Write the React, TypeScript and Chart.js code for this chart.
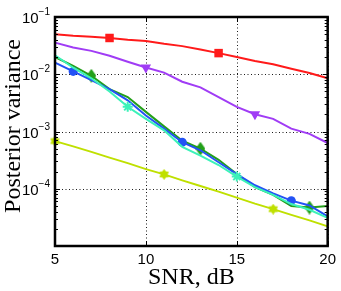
import React, { useEffect, useRef } from "react";
import { Chart, registerables } from "chart.js";

Chart.register(...registerables);

const snr = [5, 6, 7, 8, 9, 10, 11, 12, 13, 14, 15, 16, 17, 18, 19, 20];

const redVar = [0.05, 0.047, 0.045, 0.043, 0.04, 0.038, 0.034, 0.031, 0.027, 0.0234, 0.02, 0.017, 0.015, 0.0125, 0.0105, 0.0085];
const purpleVar = [0.0357, 0.0293, 0.0256, 0.021, 0.0165, 0.0131, 0.0107, 0.0074, 0.0059, 0.004, 0.0027, 0.002, 0.00166, 0.00112, 0.00091, 0.00063];
const blueVar = [0.016, 0.0112, 0.0079, 0.0055, 0.0035, 0.0019, 0.00112, 0.00065, 0.00047, 0.00029, 0.00018, 0.000115, 0.000083, 0.000062, 0.000051, 0.000033];
const greenVar = [0.02, 0.014, 0.0094, 0.0055, 0.004, 0.0022, 0.00123, 0.00069, 0.0005, 0.00032, 0.00018, 0.000107, 0.000078, 0.00005, 0.000047, 0.00005];
const cyanVar = [0.0215, 0.013, 0.0085, 0.005, 0.0027, 0.00166, 0.00105, 0.00054, 0.00038, 0.00026, 0.000163, 0.000107, 0.000078, 0.000054, 0.000043, 0.000031];
const yellowVar = [0.00068, 0.00055, 0.00044, 0.00035, 0.00028, 0.00022, 0.000178, 0.00014, 0.000112, 0.000089, 0.00007, 0.000055, 0.000044, 0.000035, 0.000028, 0.000022];

const redMarks = [8, 14];
const purpleMarks = [10, 16];
const blueMarks = [6, 12, 18];
const greenMarks = [7, 13, 19];
const cyanMarks = [9, 15];
const yellowMarks = [5, 11, 17];

const xTicks = [5, 10, 15, 20];
const yDecades = [-5, -4, -3, -2, -1];
const yLabelDecades = [-4, -3, -2, -1];

const COLORS = {
  red: "#ff1a1a",
  purple: "#a03cf5",
  blue: "#2352f5",
  green: "#23a019",
  cyan: "#3cf2b9",
  yellow: "#bfe000",
};

function makeDiamond(color: string) {
  const c = document.createElement("canvas");
  c.width = 10;
  c.height = 14;
  const g = c.getContext("2d")!;
  g.fillStyle = color;
  g.beginPath();
  g.moveTo(5, 0);
  g.lineTo(10, 7);
  g.lineTo(5, 14);
  g.lineTo(0, 7);
  g.closePath();
  g.fill();
  return c;
}

function makeHexagram(color: string) {
  const c = document.createElement("canvas");
  c.width = 11;
  c.height = 11;
  const g = c.getContext("2d")!;
  g.fillStyle = color;
  g.beginPath();
  for (let i = 0; i < 12; i++) {
    const a = (Math.PI / 6) * i - Math.PI / 2;
    const r = i % 2 === 0 ? 5.5 : 3.6;
    const x = 5.5 + r * Math.cos(a);
    const y = 5.5 + r * Math.sin(a);
    if (i === 0) g.moveTo(x, y);
    else g.lineTo(x, y);
  }
  g.closePath();
  g.fill();
  return c;
}

function toPoints(vals: number[]) {
  return snr.map((x, i) => ({ x, y: vals[i] }));
}

export default function App() {
  const ref = useRef<HTMLCanvasElement>(null);

  useEffect(() => {
    const canvas = ref.current!;
    const diamond = makeDiamond(COLORS.green);
    const hexagram = makeHexagram(COLORS.yellow);

    const mk = (
      label: string,
      vals: number[],
      color: string,
      marks: number[],
      style: any,
      radius: number,
      rotation = 0
    ) => ({
      label,
      data: toPoints(vals),
      borderColor: color,
      backgroundColor: color,
      borderWidth: 2,
      tension: 0,
      pointStyle: style,
      pointRotation: rotation,
      pointRadius: (c: any) => (marks.includes(snr[c.dataIndex]) ? radius : 0),
      pointBorderWidth: style === "star" ? 2 : 0,
      pointBorderColor: color,
      clip: false as any,
    });

    const gridPlugin = {
      id: "dotgrid",
      beforeDatasetsDraw(chart: any) {
        const { ctx, chartArea: a, scales } = chart;
        ctx.save();
        ctx.strokeStyle = "rgba(0,0,0,0.9)";
        ctx.lineWidth = 1;
        ctx.setLineDash([1, 2.5]);
        for (const t of xTicks) {
          const px = Math.round(scales.x.getPixelForValue(t)) + 0.5;
          ctx.beginPath();
          ctx.moveTo(px, a.top);
          ctx.lineTo(px, a.bottom);
          ctx.stroke();
        }
        for (const d of yDecades) {
          const py = Math.round(scales.y.getPixelForValue(Math.pow(10, d))) + 0.5;
          ctx.beginPath();
          ctx.moveTo(a.left, py);
          ctx.lineTo(a.right, py);
          ctx.stroke();
        }
        ctx.restore();
      },
    };

    const framePlugin = {
      id: "frame",
      afterDraw(chart: any) {
        const { ctx, chartArea: a, scales } = chart;
        const ys = scales.y;
        const xs = scales.x;
        ctx.save();
        ctx.strokeStyle = "#000";
        ctx.lineWidth = 1;
        for (let d = -5; d <= -2; d++) {
          for (let m = 1; m <= 9; m++) {
            const v = m * Math.pow(10, d);
            const py = Math.round(ys.getPixelForValue(v)) + 0.5;
            const len = m === 1 ? 5 : 3;
            ctx.beginPath();
            ctx.moveTo(a.left, py);
            ctx.lineTo(a.left + len, py);
            ctx.moveTo(a.right, py);
            ctx.lineTo(a.right - len, py);
            ctx.stroke();
          }
        }
        for (const t of xTicks) {
          const px = Math.round(xs.getPixelForValue(t)) + 0.5;
          ctx.beginPath();
          ctx.moveTo(px, a.bottom);
          ctx.lineTo(px, a.bottom - 5);
          ctx.moveTo(px, a.top);
          ctx.lineTo(px, a.top + 5);
          ctx.stroke();
        }
        ctx.lineWidth = 2.5;
        ctx.strokeRect(a.left, a.top, a.right - a.left, a.bottom - a.top);

        ctx.fillStyle = "#000";
        ctx.textBaseline = "alphabetic";
        for (const d of yLabelDecades) {
          const py = ys.getPixelForValue(Math.pow(10, d));
          ctx.font = "10px 'Liberation Sans'";
          ctx.textAlign = "right";
          const sup = "\u2212" + String(-d);
          ctx.fillText(sup, a.left - 5, py - 2);
          const supW = ctx.measureText(sup).width;
          ctx.font = "15px 'Liberation Sans'";
          ctx.fillText("10", a.left - 5 - supW, py + 6);
        }

        ctx.font = "24px 'Liberation Serif'";
        ctx.textAlign = "center";
        ctx.fillText("SNR, dB", (a.left + a.right) / 2, 284);
        ctx.save();
        ctx.translate(20, 126);
        ctx.rotate(-Math.PI / 2);
        ctx.fillText("Posterior variance", 0, 0);
        ctx.restore();
        ctx.restore();
      },
    };

    const chart = new Chart(canvas, {
      type: "line",
      data: {
        datasets: [
          mk("red", redVar, COLORS.red, redMarks, "rect", 6),
          mk("purple", purpleVar, COLORS.purple, purpleMarks, "triangle", 6, 180),
          mk("cyan", cyanVar, COLORS.cyan, cyanMarks, "star", 5),
          mk("blue", blueVar, COLORS.blue, blueMarks, "circle", 4.5),
          mk("green", greenVar, COLORS.green, greenMarks, diamond, 6),
          mk("yellow", yellowVar, COLORS.yellow, yellowMarks, hexagram, 5.5),
        ],
      },
      options: {
        animation: false,
        responsive: false,
        devicePixelRatio: 1,
        layout: { padding: { top: 17, right: 13, left: 0, bottom: 0 } },
        plugins: { legend: { display: false }, tooltip: { enabled: false } },
        scales: {
          x: {
            type: "linear",
            min: 5,
            max: 20,
            afterBuildTicks: (s: any) => {
              s.ticks = xTicks.map((v) => ({ value: v }));
            },
            afterFit: (s: any) => {
              s.height = 45;
            },
            ticks: {
              color: "#000",
              padding: 5,
              maxRotation: 0,
              font: { family: "'Liberation Sans'", size: 15 },
            },
            grid: { display: false, drawTicks: false },
            border: { display: false },
          },
          y: {
            type: "logarithmic",
            min: 1e-5,
            max: 1e-1,
            afterBuildTicks: (s: any) => {
              s.ticks = yDecades.map((d) => ({ value: Math.pow(10, d) }));
            },
            afterFit: (s: any) => {
              s.width = 55;
            },
            ticks: { display: false },
            grid: { display: false, drawTicks: false },
            border: { display: false },
          },
        },
      },
      plugins: [gridPlugin, framePlugin],
    });

    return () => chart.destroy();
  }, []);

  return (
    <div style={{ position: "fixed", left: 0, top: 0, width: 341, height: 291, background: "#fff" }}>
      <canvas ref={ref} width={341} height={291} style={{ width: 341, height: 291 }} />
    </div>
  );
}
